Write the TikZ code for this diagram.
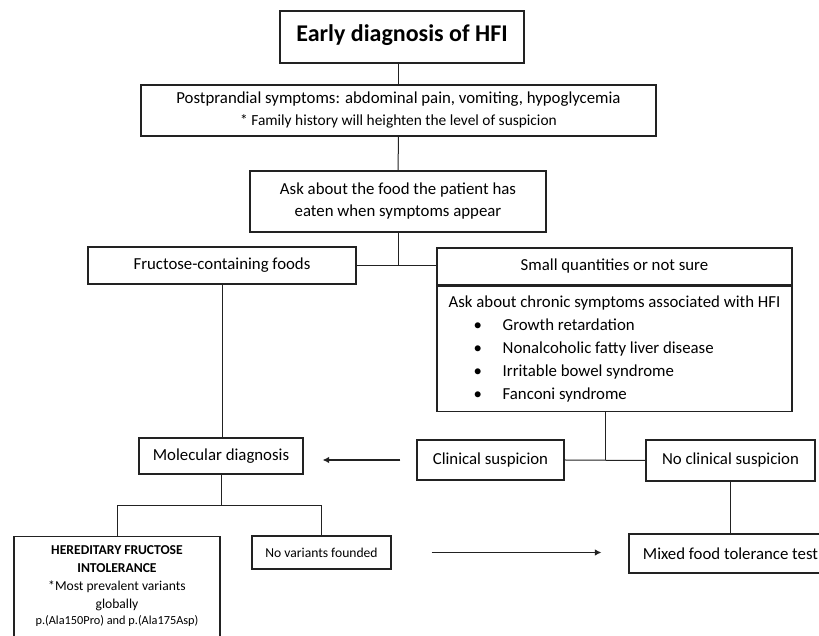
\documentclass[tikz,border=0pt]{standalone}
\usepackage{fontspec}
\setmainfont{Carlito}
\usetikzlibrary{arrows.meta, positioning, calc}
\definecolor{hfiline}{HTML}{222222}
\tikzset{
  box/.style={draw=hfiline, line width=1.1pt, align=center, inner sep=3pt},
  link/.style={draw=hfiline, line width=1pt},
  linkarrow/.style={link, line width=1.3pt, -{Latex[length=6.5pt, width=6.5pt]}}
}
\newcommand{\normalsz}{\fontsize{16.8}{22}\selectfont}
\newcommand{\notesz}{\fontsize{15.4}{22}\selectfont}

\begin{document}
\begin{tikzpicture}[x=1pt, y=1pt, font=\normalsz]
  \useasboundingbox (0,0) rectangle (819,636);

  \node[box, minimum width=244pt, minimum height=52pt, text depth=8pt, font=\fontsize{24}{26}\selectfont\bfseries] (title) at (402,599) {Early diagnosis of HFI};
  \node[box, minimum width=515pt, minimum height=51pt] (post) at (398.5,525.5) {Postprandial symptoms: abdominal pain, vomiting, hypoglycemia\\{\notesz * Family history will heighten the level of suspicion}};
  \node[box, minimum width=296pt, minimum height=61pt] (food) at (398,434.5) {Ask about the food the patient has\\eaten when symptoms appear};
  \node[box, minimum width=268pt, minimum height=37pt] (fruct) at (222,370.5) {Fructose-containing foods};
  \node[box, minimum width=355pt, minimum height=37pt] (small) at (614.5,369.5) {Small quantities or not sure};
  \node[box, minimum width=355pt, minimum height=125pt, align=left, font=\fontsize{16.8}{23}\selectfont, below=0pt of small] (chronic) {Ask about chronic symptoms associated with HFI\\
    \hspace*{25pt}\makebox[29pt][l]{\textbullet}Growth retardation\\
    \hspace*{25pt}\makebox[29pt][l]{\textbullet}Nonalcoholic fatty liver disease\\
    \hspace*{25pt}\makebox[29pt][l]{\textbullet}Irritable bowel syndrome\\
    \hspace*{25pt}\makebox[29pt][l]{\textbullet}Fanconi syndrome};
  \node[box, minimum width=164pt, minimum height=36pt] (mol) at (221,180) {Molecular diagnosis};
  \node[box, minimum width=147pt, minimum height=40pt] (clin) at (490.5,176) {Clinical suspicion};
  \node[box, minimum width=169pt, minimum height=41pt] (noclin) at (730.5,175.5) {No clinical suspicion};
  \node[box, minimum width=203pt, minimum height=39pt] (mixed) at (730.5,82.5) {Mixed food tolerance test};
  \node[box, minimum width=139pt, minimum height=33pt, font=\fontsize{13.6}{15}\selectfont] (novar) at (321.5,83.5) {No variants founded};
  \node[box, anchor=north, minimum width=206pt, minimum height=122pt, inner sep=0pt, font=\fontsize{13.6}{18}\selectfont] (hfi) at (117,100) {\parbox[t][104pt][t]{204pt}{\centering
    \textbf{HEREDITARY FRUCTOSE}\\\textbf{INTOLERANCE}\\\relax *Most prevalent variants\\globally\\[-2pt]{\fontsize{12.3}{16}\selectfont p.(Ala150Pro) and p.(Ala175Asp)}}};

  \coordinate (split1) at (food.south |- fruct.east);
  \coordinate (split2) at ($(clin.east)!0.5!(noclin.west)$);
  \coordinate (split3) at ([yshift=-31pt]mol.south);

  \draw[link] (post.north) -- (post.north |- title.south);
  \draw[link] (post.south) -- (food.north);
  \draw[link] (food.south) -- (split1);
  \draw[link] (fruct.east) -- (fruct.east -| small.west);
  \draw[link] (fruct.south) -- (fruct.south |- mol.north);
  \draw[link] (split2) -- (split2 |- chronic.south);
  \draw[link] (clin.east) -- (noclin.west);
  \draw[linkarrow, shorten <=16pt, shorten >=19pt] (clin.west) -- (clin.west -| mol.east);
  \draw[link] (noclin.south) -- (mixed.north);
  \draw[link] (mol.south) -- (split3);
  \draw[link] (hfi.north) |- (split3) -| (novar.north);
  \draw[linkarrow, shorten <=40pt, shorten >=27pt] (novar.east) -- (novar.east -| mixed.west);
\end{tikzpicture}
\end{document}
